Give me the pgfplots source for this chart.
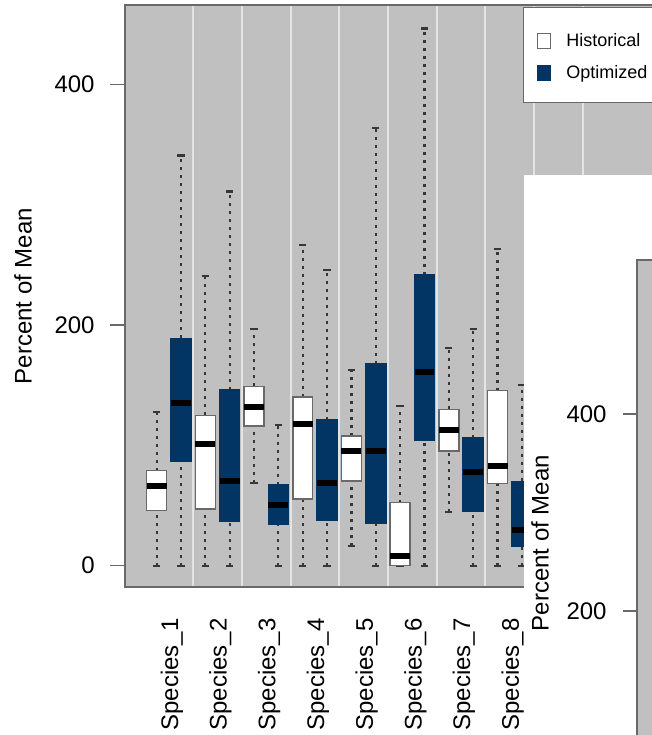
\documentclass[border=0pt]{standalone}
\usepackage{fontspec}
\setmainfont{Liberation Sans}
\usepackage{pgfplots}
\pgfplotsset{compat=1.18}
\usepgfplotslibrary{statistics}
\definecolor{bg}{RGB}{192,192,192}
\definecolor{navy}{RGB}{2,52,100}
\definecolor{framec}{RGB}{105,105,105}
\definecolor{gridc}{RGB}{228,228,228}
\definecolor{wcol}{RGB}{55,55,55}
\pgfplotsset{
  boxplot/draw/lower whisker/.code={%
    \draw[/pgfplots/boxplot/every whisker/.try, dash pattern=on 1.5pt off 2.5pt]
      (boxplot box cs:\pgfplotsboxplotvalue{lower whisker},0.5) --
      (boxplot box cs:\pgfplotsboxplotvalue{lower quartile},0.5);
    \draw[/pgfplots/boxplot/every whisker/.try, solid]
      (boxplot whisker cs:\pgfplotsboxplotvalue{lower whisker},0) --
      (boxplot whisker cs:\pgfplotsboxplotvalue{lower whisker},1);
  },
  boxplot/draw/upper whisker/.code={%
    \draw[/pgfplots/boxplot/every whisker/.try, dash pattern=on 1.5pt off 2.5pt]
      (boxplot box cs:\pgfplotsboxplotvalue{upper quartile},0.5) --
      (boxplot box cs:\pgfplotsboxplotvalue{upper whisker},0.5);
    \draw[/pgfplots/boxplot/every whisker/.try, solid]
      (boxplot whisker cs:\pgfplotsboxplotvalue{upper whisker},0) --
      (boxplot whisker cs:\pgfplotsboxplotvalue{upper whisker},1);
  },
  common/.style={forget plot, line width=0.75pt,
    boxplot/draw direction=y,
    boxplot/box extend=0.41, boxplot/whisker extend=0.15,
    boxplot/every median/.style={draw=black, line width=3pt},
    boxplot/every whisker/.style={draw=wcol, line width=1.1pt}},
  hist/.style={common, draw=framec,
    boxplot/every box/.style={fill=white, draw=framec}},
  opt/.style={common, draw=navy,
    boxplot/every box/.style={fill=navy, draw=navy}},
}
\begin{document}
\begin{tikzpicture}
\useasboundingbox (0,0) rectangle (326pt,367.5pt);
\clip (0,0) rectangle (326pt,367.5pt);
\begin{axis}[
  at={(62.5pt,365pt)}, anchor=north west,
  scale only axis, width=265.4pt, height=291pt,
  xmin=0.1, xmax=11, ymin=-17.7, ymax=466,
  axis background/.style={fill=bg},
  axis line style={draw=framec, line width=0.75pt},
  tick label style={font=\fontsize{12}{14}\selectfont},
  /pgf/number format/assume math mode=true,
  label style={font=\fontsize{12}{14}\selectfont},
  ytick={0,200,400}, ytick pos=left,
  major tick length=7.5pt, tick align=outside,
  y tick style={draw=framec, line width=0.75pt},
  xtick={1,2,3,4,5,6,7,8}, xtick pos=bottom,
  xticklabels={Species\_1,Species\_2,Species\_3,Species\_4,Species\_5,Species\_6,Species\_7,Species\_8},
  x tick style={draw=none},
  xticklabel style={xshift=1.5pt, yshift=-8pt, rotate=90, anchor=east, inner sep=0pt},
  yticklabel style={xshift=-7.5pt, inner sep=0pt},
  minor xtick={1.5,2.5,3.5,4.5,5.5,6.5,7.5,8.5,9.5},
  xminorgrids=true, minor tick length=0pt,
  minor x grid style={draw=gridc, line width=1pt},
  ylabel={Percent of Mean},
  ylabel style={at={(axis description cs:-0.1922,0.5)}, anchor=center},
  legend style={at={(axis description cs:0.7495,0.9966)}, anchor=north west,
    draw=framec, fill=white, font=\fontsize{9}{11}\selectfont,
    inner xsep=7pt, inner ysep=7.5pt, row sep=-0.5pt, column sep=7.5pt,
    nodes={inner sep=0pt, text height=12pt, text depth=4.5pt}},
  legend cell align=left,
  legend image code/.code={\draw[#1, line width=0.6pt] (0pt,-5pt) rectangle (6.5pt,2.5pt);},
]
% Historical
\addplot[hist, boxplot prepared={draw position=0.75, lower whisker=0, lower quartile=46, median=66.5, upper quartile=79, upper whisker=128}] coordinates {};
\addplot[hist, boxplot prepared={draw position=1.75, lower whisker=0, lower quartile=47, median=101, upper quartile=125, upper whisker=241}] coordinates {};
\addplot[hist, boxplot prepared={draw position=2.75, lower whisker=68.5, lower quartile=116, median=132, upper quartile=149, upper whisker=196.5}] coordinates {};
\addplot[hist, boxplot prepared={draw position=3.75, lower whisker=0, lower quartile=55.5, median=118, upper quartile=140, upper whisker=266.5}] coordinates {};
\addplot[hist, boxplot prepared={draw position=4.75, lower whisker=16.5, lower quartile=70.5, median=95.5, upper quartile=108, upper whisker=162.5}] coordinates {};
\addplot[hist, boxplot prepared={draw position=5.75, lower whisker=0, lower quartile=0, median=8, upper quartile=52.5, upper whisker=132.5}] coordinates {};
\addplot[hist, boxplot prepared={draw position=6.75, lower whisker=44.5, lower quartile=95.5, median=113, upper quartile=130, upper whisker=181}] coordinates {};
\addplot[hist, boxplot prepared={draw position=7.75, lower whisker=0, lower quartile=68.5, median=83, upper quartile=145.5, upper whisker=263}] coordinates {};
% Optimized
\addplot[opt, boxplot prepared={draw position=1.25, lower whisker=0, lower quartile=87, median=135.5, upper quartile=189, upper whisker=341}] coordinates {};
\addplot[opt, boxplot prepared={draw position=2.25, lower whisker=0, lower quartile=37, median=70, upper quartile=146, upper whisker=311}] coordinates {};
\addplot[opt, boxplot prepared={draw position=3.25, lower whisker=0, lower quartile=34.5, median=50.5, upper quartile=67, upper whisker=117}] coordinates {};
\addplot[opt, boxplot prepared={draw position=4.25, lower whisker=0, lower quartile=38, median=68.5, upper quartile=121, upper whisker=246}] coordinates {};
\addplot[opt, boxplot prepared={draw position=5.25, lower whisker=0, lower quartile=35.5, median=95.5, upper quartile=167.5, upper whisker=364}] coordinates {};
\addplot[opt, boxplot prepared={draw position=6.25, lower whisker=0, lower quartile=104, median=161, upper quartile=241.5, upper whisker=446.5}] coordinates {};
\addplot[opt, boxplot prepared={draw position=7.25, lower whisker=0, lower quartile=45.5, median=77.5, upper quartile=106.5, upper whisker=196.5}] coordinates {};
\addplot[opt, boxplot prepared={draw position=8.25, lower whisker=0, lower quartile=16, median=30, upper quartile=70, upper whisker=150}] coordinates {};
\addlegendimage{draw=framec, fill=white}
\addlegendentry{Historical}
\addlegendimage{draw=navy, fill=navy}
\addlegendentry{Optimized}
\end{axis}
\fill[white] (262pt,-2pt) rectangle (330pt,280pt);
\begin{axis}[
  at={(318.5pt,237.5pt)}, anchor=north west,
  scale only axis, width=200pt, height=283pt,
  xmin=0, xmax=1, ymin=-18, ymax=556,
  axis background/.style={fill=bg},
  axis line style={draw=framec, line width=0.75pt},
  tick label style={font=\fontsize{12}{14}\selectfont},
  /pgf/number format/assume math mode=true,
  label style={font=\fontsize{12}{14}\selectfont},
  xtick=\empty,
  ytick={200,400}, ytick pos=left,
  major tick length=7pt, tick align=outside,
  y tick style={draw=framec, line width=0.75pt},
  yticklabel style={xshift=-8pt, inner sep=0pt},
  ylabel={Percent of Mean},
  ylabel style={at={(axis description cs:-0.2425,0.5)}, anchor=center},
]
\end{axis}
\end{tikzpicture}
\end{document}
